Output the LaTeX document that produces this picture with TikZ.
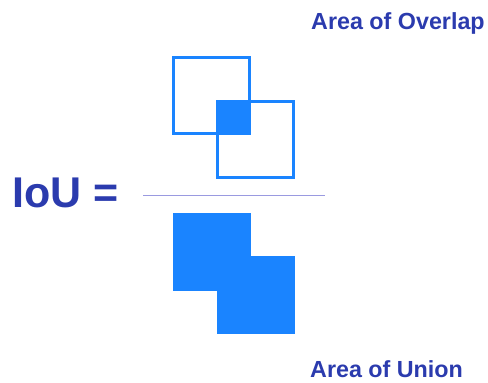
\documentclass[tikz,border=0pt]{standalone}
\usepackage{fontspec}
\setmainfont{Liberation Sans}
\usetikzlibrary{positioning}
\definecolor{ink}{HTML}{2B3BAE}
\definecolor{boxblue}{HTML}{1A84FF}
\definecolor{rule}{HTML}{9A9AE0}

\begin{document}
\begin{tikzpicture}[
  x=1pt, y=-1pt,
  lbl/.style={anchor=base west, inner sep=0pt, text=ink, font=\bfseries\fontsize{23.3}{26}\selectfont},
  sq/.style={draw=boxblue, line width=3pt, inner sep=0pt, outer sep=0pt, minimum size=76pt},
  blk/.style={fill=boxblue, inner sep=0pt, outer sep=0pt, minimum size=78pt}
]
\useasboundingbox (0,0) rectangle (488,383);

% Formula
\node[lbl, font=\bfseries\fontsize{43}{46}\selectfont] (iou) at (12,207) {IoU =};
\coordinate (fracl) at (143,195.5);
\coordinate (fracr) at (325,195.5);
\draw[rule, line width=1.3pt] (fracl) -- (fracr);

% Numerator: overlap
\node[blk, minimum size=33pt] (ovl) at (233.5,117) {};
\node[sq] (boxa) at (211.5,95.5) {};
\node[sq] (boxb) at (255,139) {};
\node[lbl] (tovl) at (311,29) {Area of Overlap};

% Denominator: union
\node[blk] (una) at (211.5,251.5) {};
\node[blk] (unb) at (256,295) {};
\node[lbl] (tuni) at (310,377.5) {Area of Union};
\end{tikzpicture}
\end{document}
